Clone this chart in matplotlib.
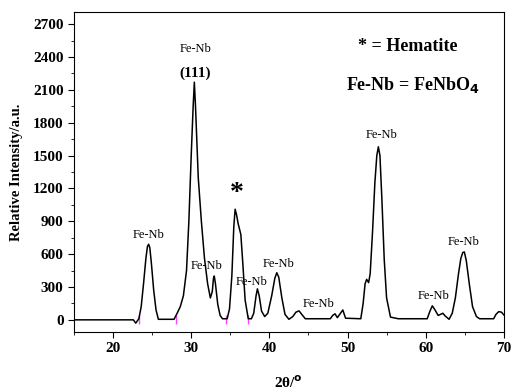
import matplotlib.pyplot as plt
from matplotlib.ticker import MultipleLocator

# XRD profile
two_theta = [15.0, 22.6, 22.9, 23.1, 23.3, 23.6, 23.9, 24.2, 24.4, 24.55, 24.7, 24.9, 25.2,
             25.5, 25.8, 27.8, 28.2, 28.6, 29.0, 29.4, 29.7, 30.0, 30.25, 30.4, 30.55,
             30.9, 31.3, 31.7, 32.1, 32.45, 32.7, 32.85, 32.95, 33.1, 33.4, 33.7, 34.0,
             34.6, 34.9, 35.2, 35.45, 35.62, 35.8, 36.0, 36.35, 36.6, 36.9, 37.3, 37.7,
             38.0, 38.3, 38.47, 38.7, 39.0, 39.4, 39.8, 40.3, 40.7, 40.95, 41.2, 41.6,
             42.0, 42.5, 43.0, 43.4, 43.8, 44.2, 44.6, 47.8, 48.1, 48.4, 48.7, 49.0,
             49.4, 49.75, 51.7, 52.0, 52.25, 52.45, 52.7, 52.9, 53.2, 53.5, 53.75, 53.95,
             54.15, 54.4, 54.7, 55.0, 55.5, 56.5, 60.2, 60.55, 60.85, 61.2, 61.6, 61.9,
             62.2, 62.5, 63.0, 63.4, 63.8, 64.2, 64.5, 64.75, 64.95, 65.2, 65.6, 66.0,
             66.5, 66.9, 68.7, 69.0, 69.35, 69.7, 70.0]
intensity = [0, 0, -30, -10, 10, 120, 330, 560, 670, 690, 660, 520, 270,
             90, 5, 5, 60, 120, 220, 450, 900, 1500, 1950, 2170, 1950,
             1300, 900, 560, 330, 200, 260, 380, 400, 330, 140, 40, 10,
             10, 100, 400, 850, 1010, 960, 880, 780, 520, 180, 10, 10,
             60, 220, 283, 220, 80, 30, 60, 220, 380, 430, 390, 200,
             50, 5, 30, 70, 82, 45, 10, 10, 40, 55, 20, 50,
             90, 15, 10, 150, 330, 370, 340, 420, 800, 1250, 1500, 1580,
             1500, 1100, 550, 200, 25, 10, 10, 80, 128, 90, 40, 50,
             60, 35, 5, 60, 200, 420, 560, 615, 620, 540, 320, 120,
             30, 10, 10, 50, 75, 70, 45]

# peak annotations
labels = ["Fe-Nb"] * 9
label_x = [24.6, 30.5, 32.0, 37.7, 41.2, 46.3, 54.4, 61.0, 64.9]
label_y = [775, 2470, 495, 345, 510, 145, 1690, 220, 710]

# little magenta marks on the baseline
mark_x = [23.3, 28.0, 34.4, 37.3]

plt.rcParams['font.family'] = ['Liberation Serif', 'DejaVu Serif']

fig = plt.figure(figsize=(5.12, 3.9), dpi=100)
ax = fig.add_axes([0.1445, 0.149, 0.8395, 0.82])

ax.plot(two_theta, intensity, color='black', linewidth=1.1, zorder=3)
ax.vlines(mark_x, -40, 40, color='#ff44ff', linewidth=1.0, zorder=2)

for lab, lx, ly in zip(labels, label_x, label_y):
    ax.text(lx, ly, lab, ha='center', va='center', fontsize=9)

ax.text(30.5, 2255, "(111)", ha='center', va='center', fontsize=11, fontweight='bold')
ax.text(35.8, 1150, "*", ha='center', va='center', fontsize=20, fontweight='bold')
ax.text(57.7, 2500, "* = Hematite", ha='center', va='center', fontsize=13, fontweight='bold')
ax.text(58.3, 2140, "Fe-Nb = FeNbO$_{\\mathbf{4}}$", ha='center', va='center',
        fontsize=13, fontweight='bold')

ax.set_xlim(15, 70)
ax.set_ylim(-110, 2810)
ax.xaxis.set_major_locator(MultipleLocator(10))
ax.xaxis.set_minor_locator(MultipleLocator(5))
ax.yaxis.set_major_locator(MultipleLocator(300))
ax.yaxis.set_minor_locator(MultipleLocator(150))
ax.tick_params(which='both', direction='out', top=False, right=False, labelsize=11)
ax.tick_params(which='major', length=4)
ax.tick_params(which='minor', length=2.5)
for t in ax.get_xticklabels() + ax.get_yticklabels():
    t.set_fontweight('bold')

ax.set_xlabel("2θ/$^\\mathbf{o}$", fontsize=11, fontweight='bold', labelpad=14)
ax.set_ylabel("Relative Intensity/a.u.", fontsize=10.5, fontweight='bold', labelpad=7)

fig.savefig("out.png", dpi=100)
